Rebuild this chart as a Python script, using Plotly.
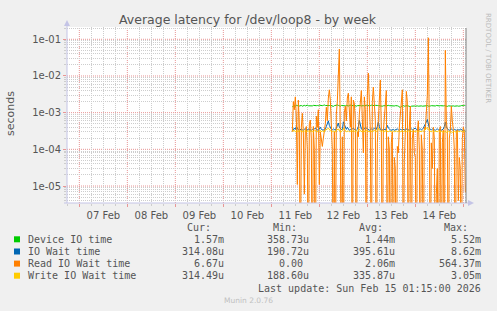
import plotly.graph_objects as go
import pandas as pd
import numpy as np

# ---------------- data ----------------
start_time = "2026-02-11 10:30"
n_points = 174

device_io_ms = [1.45,1.52,1.55,1.50,1.58,1.55,1.60,1.52,1.55,1.57,
                1.50,1.55,1.58,1.53,1.56,1.60,1.54,1.52,1.57,1.55,
                1.53,1.58,1.56,1.50,1.55,1.57,1.54,1.60,1.56,1.52,
                1.55,1.58,1.62,1.57,1.55,1.53,1.58,1.56,1.60,1.55,
                1.52,1.48,1.55,1.58,1.56,1.62,1.58,1.55,1.50,1.57,
                1.55,1.60,1.56,1.53,1.58,1.55,1.52,1.57,1.60,1.55,
                1.53,1.56,1.58,1.54,1.50,1.55,1.57,1.60,1.56,1.53,
                1.58,1.55,1.52,1.56,1.59,1.55,1.53,1.57,1.55,1.60,
                1.56,1.52,1.55,1.58,1.54,1.57,1.55,1.53,1.58,1.56,
                1.50,1.54,1.57,1.55,1.52,1.56,1.58,1.55,1.53,1.57,
                1.55,1.48,1.52,1.55,1.57,1.54,1.50,1.45,1.38,1.48,
                1.52,1.55,1.50,1.53,1.57,1.55,1.52,1.48,1.45,1.50,
                1.53,1.55,1.52,1.50,1.55,1.53,1.50,1.52,1.55,1.53,
                1.50,1.52,1.55,1.57,1.53,1.55,1.50,1.48,1.52,1.55,
                1.53,1.50,1.55,1.52,1.57,1.55,1.50,1.53,1.55,1.52,
                1.50,1.53,1.55,1.52,1.50,1.48,1.53,1.55,1.52,1.50,
                1.55,1.53,1.50,1.52,1.55,1.53,1.50,1.55,1.52,1.56,
                1.53,1.55,1.58,1.57]

io_wait_us = [330,340,380,350,420,360,340,330,350,360,
              340,330,350,370,340,330,360,350,340,330,
              350,340,360,380,350,340,330,360,400,350,
              340,330,360,350,420,480,600,450,380,350,
              340,360,350,330,380,450,520,400,360,350,
              340,560,480,380,350,400,360,330,350,340,
              360,380,350,340,330,350,420,620,450,360,
              340,350,360,400,380,350,340,330,350,360,
              340,350,380,360,350,420,560,420,350,340,
              330,360,350,340,380,450,380,350,340,330,
              340,350,330,340,350,360,340,330,350,340,
              360,350,340,330,360,350,340,330,350,360,
              340,350,360,380,350,340,330,350,360,340,
              350,380,420,500,560,650,480,380,350,340,
              360,350,340,330,350,360,340,350,360,330,
              350,360,420,550,400,350,340,330,350,360,
              340,330,350,340,330,350,340,330,360,340,
              330,320,330,314]

read_wait_s = [3.0e-4,2.0e-3,1.2e-3,2.7e-3,8e-4,1.1e-5,2.2e-3,5e-4,0,4e-4,
               9.6e-4,3e-4,6e-6,3e-4,4.2e-4,1e-4,0,5e-4,6.3e-4,2e-4,
               0,4.2e-4,1e-4,0,8e-4,4e-4,1.2e-3,1.1e-5,3e-4,1.5e-4,
               1.2e-4,2e-4,3e-4,5e-4,1.4e-3,6e-4,2.5e-3,4.2e-3,2.2e-3,4e-4,
               1e-4,0,3e-4,0,9e-4,2e-3,1.5e-2,5.4e-2,2e-4,0,
               2.2e-4,0,1e-3,1.5e-3,6e-4,2.5e-3,3.4e-3,8e-4,4e-4,2.7e-3,
               0,2.2e-3,1.8e-3,6e-4,0,3e-4,2.2e-4,9e-4,1.6e-3,4e-3,
               7e-4,8e-5,2.7e-3,1.2e-3,0,3e-3,1.2e-2,1e-3,3.4e-4,0,
               2e-3,5e-3,1.2e-3,6e-4,0,1.5e-4,6.3e-4,3e-3,7.8e-3,3.4e-4,
               0,3e-4,9e-4,2.8e-3,4e-3,0,2.2e-4,1e-4,0,1.5e-4,
               3e-4,0,6e-5,3e-5,0,1.2e-4,8e-5,4e-4,1e-3,3e-3,
               4.2e-3,0,5e-5,3e-4,3.8e-3,2e-3,0,4e-4,1.5e-3,0,
               2e-4,3.5e-4,8e-5,6e-5,0,3e-4,6e-4,1e-4,0,2.5e-4,
               1e-4,0,4e-4,3.4e-4,9e-4,3e-3,1.1e-1,4e-4,0,1.5e-4,
               3e-5,4e-4,2e-4,0,6e-6,3e-5,0,3e-4,4.2e-4,0,
               1.5e-4,3.4e-4,0,5e-2,6e-4,3e-4,0,2e-4,3.4e-4,1.5e-3,
               6e-4,3.4e-4,1e-4,0,3e-4,3.4e-4,4e-6,6e-5,3e-5,0,
               2e-4,4e-4,3e-4,6.67e-6]

write_wait_us = [310,320,330,300,310,320,300,330,320,310,
                 300,320,310,330,300,310,320,300,310,320,
                 310,300,320,330,310,300,320,310,330,300,
                 320,310,300,330,340,360,380,340,320,310,
                 300,320,310,300,330,340,360,320,310,300,
                 320,380,350,320,300,310,320,300,310,320,
                 300,330,310,300,320,310,330,360,320,310,
                 300,320,310,300,330,320,310,300,320,310,
                 300,320,330,310,300,330,380,340,310,300,
                 320,310,300,330,320,310,300,320,310,300,
                 310,320,300,310,320,300,310,320,300,310,
                 320,300,310,320,300,310,320,300,330,310,
                 300,320,310,300,320,310,300,320,310,300,
                 320,310,330,360,380,400,340,320,310,300,
                 320,310,300,320,310,300,320,310,300,310,
                 300,290,300,310,290,300,310,300,290,300,
                 290,300,310,300,290,300,310,300,320,310,
                 300,310,320,314]

series_names = ["Device IO time", "IO Wait time", "Read IO Wait time", "Write IO Wait time"]
series_colors = ["#00CC00", "#0066B3", "#FF8000", "#FFCC00"]
legend_cur = ["1.57m", "314.08u", "6.67u", "314.49u"]
legend_min = ["358.73u", "190.72u", "0.00 ", "188.60u"]
legend_avg = ["1.44m", "395.61u", "2.06m", "335.87u"]
legend_max = ["5.52m", "8.62m", "564.37m", "3.05m"]

ytick_vals = [1e-5, 1e-4, 1e-3, 1e-2, 1e-1]
ytick_text = ["1e-05", "1e-04", "1e-03", "1e-02", "1e-01"]
day_lines = pd.date_range("2026-02-07", "2026-02-15", freq="D")

title_text = "Average latency for /dev/loop8 - by week"
last_update = "Last update: Sun Feb 15 01:15:00 2026"

for arr in (device_io_ms, io_wait_us, read_wait_s, write_wait_us):
    assert len(arr) == n_points, len(arr)

# ---------------- figure ----------------
W, H = 497, 311
L, R, T, B = 67, 466, 27, 203
Y_RANGE = [-5.463, -0.665]


def px(x):
    return (x - L) / (R - L)


def py(y):
    return (B - y) / (B - T)


times = pd.date_range(start_time, periods=n_points, freq="30min")
floor_val = 1e-8  # zero values are drawn clipped at the bottom edge

values = [
    np.array(device_io_ms) * 1e-3,
    np.array(io_wait_us) * 1e-6,
    np.array(read_wait_s, dtype=float),
    np.array(write_wait_us) * 1e-6,
]

fig = go.Figure()
for name, col, v in zip(series_names, series_colors, values):
    v = np.where(v <= 0, floor_val, v)
    fig.add_trace(go.Scatter(x=times, y=v, mode="lines", name=name,
                             line=dict(color=col, width=1), hoverinfo="skip"))

major_grid = "rgb(232,150,150)"
minor_grid = "rgb(205,205,205)"
axis_col = "#C4C4E6"
txt_col = "#555555"

minor_y = [k * 10.0 ** e for e in range(-6, 0) for k in range(2, 10)]

fig.update_layout(
    width=W, height=H,
    margin=dict(l=L, r=W - R, t=T, b=H - B, pad=0),
    paper_bgcolor="#F0F0F0", plot_bgcolor="#FFFFFF",
    showlegend=False,
    font=dict(family="DejaVu Sans", color=txt_col, size=10),
    xaxis=dict(
        type="date",
        range=["2026-02-06 17:50", "2026-02-15 01:20"],
        tick0="2026-02-07", dtick=86400000,
        tickformat="%d %b", ticklabelmode="period",
        showgrid=False,
        ticks="outside", ticklen=3, tickcolor=major_grid,
        tickfont=dict(size=10, color=txt_col),
        minor=dict(tick0="2026-02-07", dtick=21600000, showgrid=True,
                   gridcolor=minor_grid, griddash="1px,1px",
                   ticks="outside", ticklen=2, tickcolor=minor_grid),
        showline=False, zeroline=False, fixedrange=True,
    ),
    yaxis=dict(
        type="log", range=Y_RANGE,
        tickmode="array", tickvals=ytick_vals, ticktext=ytick_text,
        showgrid=False,
        ticks="outside", ticklen=3, tickcolor=major_grid,
        tickfont=dict(size=10, color=txt_col),
        minor=dict(tickmode="array", tickvals=minor_y, showgrid=True,
                   gridcolor=minor_grid, griddash="1px,1px",
                   ticks="outside", ticklen=2, tickcolor=minor_grid),
        showline=False, zeroline=False, fixedrange=True,
    ),
)

shapes = []
# major grid (red dotted) at midnights and decades
for d in day_lines:
    shapes.append(dict(type="line", xref="x", yref="paper", x0=d, x1=d, y0=0, y1=1,
                       line=dict(color=major_grid, width=1, dash="1px,1px"), layer="below"))
for v in ytick_vals:
    yp = (np.log10(v) - Y_RANGE[0]) / (Y_RANGE[1] - Y_RANGE[0])
    shapes.append(dict(type="line", xref="paper", yref="paper", x0=0, x1=1, y0=yp, y1=yp,
                       line=dict(color=major_grid, width=1, dash="1px,1px"), layer="below"))

# axes with arrowheads
shapes.append(dict(type="line", xref="paper", yref="paper", x0=px(67), x1=px(67),
                   y0=py(203), y1=py(24), line=dict(color=axis_col, width=1), layer="above"))
shapes.append(dict(type="path", xref="paper", yref="paper",
                   path=f"M {px(64)} {py(26)} L {px(70)} {py(26)} L {px(67)} {py(20)} Z",
                   fillcolor=axis_col, line=dict(color=axis_col, width=0), layer="above"))
shapes.append(dict(type="line", xref="paper", yref="paper", x0=px(64), x1=px(469),
                   y0=py(203), y1=py(203), line=dict(color=axis_col, width=1), layer="above"))
shapes.append(dict(type="path", xref="paper", yref="paper",
                   path=f"M {px(468)} {py(200)} L {px(468)} {py(206)} L {px(474)} {py(203)} Z",
                   fillcolor=axis_col, line=dict(color=axis_col, width=0), layer="above"))
# right edge marker line
shapes.append(dict(type="line", xref="paper", yref="paper", x0=px(466), x1=px(466),
                   y0=py(203), y1=py(28), line=dict(color="#808080", width=1), layer="above"))

annotations = []
annotations.append(dict(text=title_text, x=px(248), y=py(19), xref="paper", yref="paper",
                        showarrow=False, xanchor="center", yanchor="middle",
                        font=dict(family="DejaVu Sans", size=12.5, color=txt_col)))
annotations.append(dict(text="seconds", x=px(11), y=py(114), xref="paper", yref="paper",
                        showarrow=False, textangle=-90, xanchor="center", yanchor="middle",
                        font=dict(family="DejaVu Sans", size=11, color=txt_col)))
annotations.append(dict(text="RRDTOOL / TOBI OETIKER", x=px(488), y=py(58), xref="paper", yref="paper",
                        showarrow=False, textangle=90, xanchor="center", yanchor="middle",
                        font=dict(family="DejaVu Sans", size=7, color="#BBBBBB")))

mono = dict(family="DejaVu Sans Mono", size=10, color=txt_col)
header_y = 227.3
for txt, xr in (("Cur:", 213), ("Min:", 299), ("Avg:", 385), ("Max:", 470)):
    annotations.append(dict(text=txt, x=px(xr), y=py(header_y), xref="paper", yref="paper",
                            showarrow=False, xanchor="right", yanchor="middle", font=mono))

row_ys = [239.3, 251.5, 263.6, 275.7]
for i, ry in enumerate(row_ys):
    shapes.append(dict(type="rect", xref="paper", yref="paper",
                       x0=px(14), x1=px(20), y0=py(ry + 3), y1=py(ry - 3),
                       fillcolor=series_colors[i], line=dict(width=0)))
    annotations.append(dict(text=series_names[i], x=px(26), y=py(ry), xref="paper", yref="paper",
                            showarrow=False, xanchor="left", yanchor="middle", font=mono))
    for txt, xr in ((legend_cur[i], 226), (legend_min[i], 311), (legend_avg[i], 397), (legend_max[i], 483)):
        t = txt.rstrip()
        xe = xr if t == txt else xr - 6
        annotations.append(dict(text=t, x=px(xe), y=py(ry), xref="paper", yref="paper",
                                showarrow=False, xanchor="right", yanchor="middle", font=mono))

annotations.append(dict(text=last_update, x=px(483), y=py(288), xref="paper", yref="paper",
                        showarrow=False, xanchor="right", yanchor="middle", font=mono))
annotations.append(dict(text="Munin 2.0.76", x=px(248), y=py(300.5), xref="paper", yref="paper",
                        showarrow=False, xanchor="center", yanchor="middle",
                        font=dict(family="DejaVu Sans", size=7.5, color="#C0C0C0")))

fig.update_layout(shapes=shapes, annotations=annotations)

fig.write_html("out.html", config={"displayModeBar": False, "staticPlot": True})
